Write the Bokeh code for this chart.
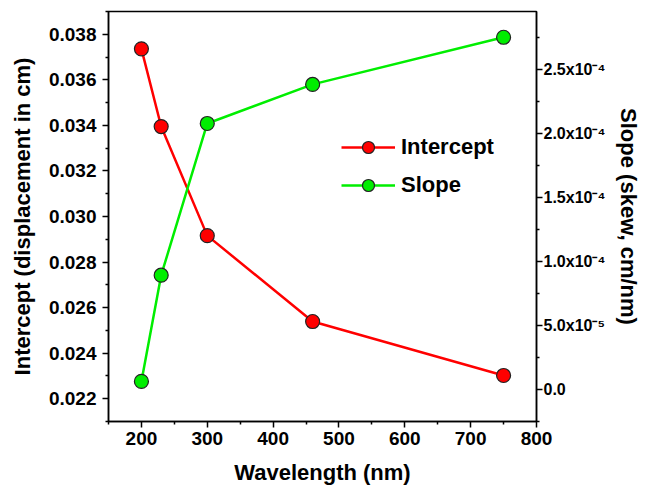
from bokeh.plotting import figure
from bokeh.models import (LinearAxis, Range1d, FixedTicker, Legend, LegendItem,
                          PrintfTickFormatter, CustomJSTickFormatter)
from bokeh.embed import file_html
from bokeh.resources import INLINE

# ---- data ----
wavelength = [200, 230, 300, 460, 750]
intercept = [0.03736, 0.03395, 0.02916, 0.02539, 0.02302]
slope = [6.3e-6, 8.92e-5, 2.076e-4, 2.381e-4, 2.749e-4]

x_ticks = [200, 300, 400, 500, 600, 700, 800]
x_minor = [150, 250, 350, 450, 550, 650, 750]
left_ticks = [0.022, 0.024, 0.026, 0.028, 0.030, 0.032, 0.034, 0.036, 0.038]
left_minor = [0.021, 0.023, 0.025, 0.027, 0.029, 0.031, 0.033, 0.035, 0.037, 0.039]
right_ticks = [0.0, 5e-5, 1e-4, 1.5e-4, 2e-4, 2.5e-4]
right_minor = [-2.5e-5, 2.5e-5, 7.5e-5, 1.25e-4, 1.75e-4, 2.25e-4, 2.75e-4]
right_labels = ["0.0", "5.0x10\u207b\u2075", "1.0x10\u207b\u2074", "1.5x10\u207b\u2074",
                "2.0x10\u207b\u2074", "2.5x10\u207b\u2074"]

FONT = "Liberation Sans"
RED = "#ff0000"
GREEN = "#00ee00"

p = figure(width=646, height=491, output_backend="svg", toolbar_location=None,
           x_range=Range1d(150, 800), y_range=Range1d(0.021, 0.039),
           min_border_left=108, min_border_right=110, min_border_top=11,
           min_border_bottom=70, background_fill_color="white",
           border_fill_color="white")
p.extra_y_ranges = {"slope": Range1d(-2.5e-5, 2.95e-4)}
p.grid.visible = False
p.outline_line_color = "black"
p.outline_line_width = 1.5

r1 = p.line(wavelength, intercept, line_color=RED, line_width=2.5)
r2 = p.scatter(wavelength, intercept, size=14, fill_color=RED, line_color="#222222", line_width=1.2)
g1 = p.line(wavelength, slope, line_color=GREEN, line_width=2.5, y_range_name="slope")
g2 = p.scatter(wavelength, slope, size=14, fill_color=GREEN, line_color="#222222", line_width=1.2,
               y_range_name="slope")

def style(ax, label_standoff, axis_standoff):
    ax.axis_line_width = 1.5
    ax.major_tick_line_width = 1.5
    ax.minor_tick_line_width = 1.5
    ax.major_tick_in = 0
    ax.major_tick_out = 6
    ax.minor_tick_in = 0
    ax.minor_tick_out = 3
    ax.major_label_text_font = FONT
    ax.major_label_text_font_style = "bold"
    ax.major_label_text_font_size = "19px"
    ax.major_label_text_color = "black"
    ax.axis_label_text_font = FONT
    ax.axis_label_text_font_style = "bold"
    ax.axis_label_text_font_size = "22px"
    ax.axis_label_text_color = "black"
    ax.major_label_standoff = label_standoff
    ax.axis_label_standoff = axis_standoff

xa = p.xaxis[0]
xa.ticker = FixedTicker(ticks=x_ticks, minor_ticks=x_minor)
xa.axis_label = "Wavelength (nm)"
style(xa, 4, 12)

ya = p.yaxis[0]
ya.ticker = FixedTicker(ticks=left_ticks, minor_ticks=left_minor)
ya.formatter = PrintfTickFormatter(format="%.3f")
ya.axis_label = "Intercept (displacement in cm)"
style(ya, 6, 11)

ra = LinearAxis(y_range_name="slope", axis_label="Slope (skew, cm/nm)",
                ticker=FixedTicker(ticks=right_ticks, minor_ticks=right_minor))
ra.formatter = CustomJSTickFormatter(args=dict(tvals=right_ticks, tlabels=right_labels), code="""
let best = 0;
for (let i = 0; i < tvals.length; i++) {
  if (Math.abs(tvals[i] - tick) < Math.abs(tvals[best] - tick)) best = i;
}
return tlabels[best];
""")
style(ra, 1, 8)
ra.major_label_text_font_size = "16px"
p.add_layout(ra, "right")

legend = Legend(items=[LegendItem(label="Intercept", renderers=[r1, r2]),
                       LegendItem(label="Slope", renderers=[g1, g2])],
                location=(223, 211), glyph_width=54, glyph_height=30, label_height=30,
                label_standoff=6, spacing=8, padding=10, margin=0,
                border_line_alpha=0, background_fill_alpha=0,
                label_text_font=FONT, label_text_font_style="bold",
                label_text_font_size="22px", label_text_color="black")
p.add_layout(legend)

open("out.html", "w").write(file_html(p, INLINE))
